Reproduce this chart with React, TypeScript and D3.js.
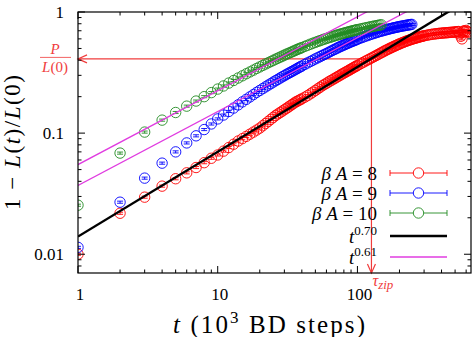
import React from "react";
import * as d3 from "d3";

// time in 10^3 BD steps
const tValues = [
  1, 2, 3, 4, 5, 6, 7, 8, 9, 10, 11, 12, 13, 14, 15, 16, 17, 18, 19, 20,
  21, 22, 23, 24, 25, 26, 27, 28, 29, 30, 31, 32, 33, 34, 35, 36, 37, 38, 39, 40,
  42, 44, 46, 48, 50, 52, 54, 56, 58, 60, 62, 64, 66, 68, 70, 72, 74, 76, 78, 80,
  82, 84, 86, 88, 90, 92, 94, 96, 98, 100,
  104, 108, 112, 116, 120, 124, 128, 132, 136, 140, 144, 148, 152, 156, 160, 164, 168, 172, 176, 180,
  184, 188, 192, 196, 200,
  205, 210, 215, 220, 225, 230, 235, 240, 245, 250, 255, 260, 265, 270, 275, 280, 285, 290, 295, 300,
  310, 320, 330, 340, 350, 360, 370, 380, 390, 400, 410, 420, 430, 440, 450, 460, 470, 480, 490, 500,
  510, 520, 530, 540, 550, 560, 570, 580, 590, 600, 610, 620,
];

// beta A = 8
const redValues = [
  0.01, 0.0218, 0.0296, 0.0365, 0.042, 0.047, 0.052, 0.057, 0.062, 0.066, 0.071, 0.076, 0.081, 0.086, 0.09, 0.094, 0.098, 0.102, 0.106, 0.11,
  0.115, 0.12, 0.125, 0.13, 0.135, 0.14, 0.144, 0.148, 0.152, 0.156, 0.16, 0.164, 0.168, 0.172, 0.176, 0.18, 0.183, 0.186, 0.189, 0.192,
  0.198, 0.204, 0.211, 0.218, 0.225, 0.232, 0.239, 0.246, 0.252, 0.258, 0.264, 0.27, 0.275, 0.281, 0.286, 0.292, 0.297, 0.303, 0.308, 0.313,
  0.318, 0.323, 0.328, 0.333, 0.338, 0.343, 0.348, 0.353, 0.357, 0.362,
  0.371, 0.38, 0.388, 0.397, 0.405, 0.413, 0.421, 0.429, 0.437, 0.445, 0.453, 0.461, 0.468, 0.476, 0.483, 0.49, 0.497, 0.503, 0.51, 0.516,
  0.522, 0.528, 0.534, 0.54, 0.545,
  0.552, 0.558, 0.564, 0.57, 0.576, 0.581, 0.586, 0.591, 0.596, 0.6, 0.604, 0.608, 0.612, 0.616, 0.62, 0.623, 0.627, 0.63, 0.633, 0.636,
  0.641, 0.646, 0.65, 0.654, 0.657, 0.66, 0.662, 0.665, 0.667, 0.669, 0.671, 0.672, 0.674, 0.675, 0.677, 0.678, 0.68, 0.681, 0.682, 0.684,
  0.686, 0.688, 0.69, 0.66, 0.63, 0.6, 0.69, 0.7, 0.685, 0.705, 0.69, 0.68,
];

// beta A = 9
const blueValues = [
  0.0114, 0.0269, 0.0425, 0.0565, 0.07, 0.083, 0.095, 0.107, 0.119, 0.131, 0.141, 0.151, 0.161, 0.171, 0.181, 0.19, 0.199, 0.208, 0.217, 0.225,
  0.233, 0.241, 0.249, 0.256, 0.264, 0.271, 0.278, 0.285, 0.292, 0.298, 0.305, 0.311, 0.317, 0.323, 0.329, 0.335, 0.341, 0.347, 0.353, 0.358,
  0.369, 0.38, 0.39, 0.4, 0.41, 0.419, 0.428, 0.437, 0.446, 0.454, 0.463, 0.472, 0.481, 0.489, 0.497, 0.505, 0.513, 0.52, 0.527, 0.534,
  0.541, 0.548, 0.554, 0.561, 0.567, 0.573, 0.579, 0.584, 0.59, 0.596,
  0.606, 0.616, 0.626, 0.635, 0.644, 0.652, 0.66, 0.668, 0.675, 0.682, 0.689, 0.695, 0.701, 0.707, 0.713, 0.718, 0.723, 0.728, 0.733, 0.738,
  0.742, 0.746, 0.75, 0.754, 0.758,
  0.762, 0.766, 0.77, 0.774, 0.778, 0.781, 0.784, 0.787, 0.79,
];

// beta A = 10
const greenValues = [
  0.0254, 0.0684, 0.102, 0.128, 0.148, 0.167, 0.184, 0.2, 0.216, 0.231, 0.245, 0.259, 0.272, 0.285, 0.297, 0.309, 0.32, 0.331, 0.342, 0.352,
  0.362, 0.372, 0.381, 0.39, 0.399, 0.408, 0.416, 0.424, 0.432, 0.44, 0.448, 0.455, 0.462, 0.469, 0.476, 0.483, 0.49, 0.496, 0.502, 0.508,
  0.52, 0.531, 0.542, 0.552, 0.562, 0.571, 0.58, 0.589, 0.597, 0.605, 0.612, 0.619, 0.626, 0.633, 0.64, 0.646, 0.652, 0.658, 0.664, 0.669,
  0.674, 0.679, 0.684, 0.689, 0.694, 0.698, 0.702, 0.707, 0.711, 0.715,
  0.722, 0.729, 0.736, 0.742, 0.748, 0.754, 0.76, 0.765, 0.77, 0.775, 0.78, 0.785,
];

const seriesValue = ["8", "9", "10"];
const seriesColors = ["#ff0000", "#0000ff", "#228b22"];

// power law fits: amplitude * t^exponent
const fitBlack = { amp: 0.014, exp: 0.7 };
const fitMagenta = [{ amp: 0.055, exp: 0.61 }, { amp: 0.037, exp: 0.61 }];

const tauZip = 126;
const pOverL0 = 0.41;
const relErr = 0.02;

const xMajor = [1, 10, 100];
const xMinor = [2, 3, 4, 5, 6, 7, 8, 9, 20, 30, 40, 50, 60, 70, 80, 90, 200, 300, 400, 500, 600];
const yMajor = [0.01, 0.1, 1];
const yMinor = [0.008, 0.009, 0.02, 0.03, 0.04, 0.05, 0.06, 0.07, 0.08, 0.09, 0.2, 0.3, 0.4, 0.5, 0.6, 0.7, 0.8, 0.9];
const yTickLabels = ["0.01", "0.1", "1"];

const W = 476;
const H = 337;
const margin = { left: 78, right: 5, top: 12, bottom: 64 };
const font = "'Liberation Serif', serif";
const arrowRed = "#f03c3c";
const magenta = "#e03ce0";

export default function App() {
  const x = d3.scaleLog().domain([1, 650]).range([margin.left, W - margin.right]);
  const y = d3.scaleLog().domain([0.007, 1]).range([H - margin.bottom, margin.top]);
  const [x0, x1] = x.range();
  const [yb, yt] = y.range();

  const allSeries = [redValues, blueValues, greenValues].map((vals, i) => ({
    key: seriesValue[i],
    color: seriesColors[i],
    points: vals.map((v, j) => ({ t: tValues[j], v })),
  }));

  const fitLine = (f: { amp: number; exp: number }) =>
    d3.line<number>().x((t) => x(t)).y((t) => y(f.amp * Math.pow(t, f.exp)))(x.domain());

  const ax = x(tauZip);
  const ay = y(pOverL0);

  const legendX = 377;
  const legendRows = [173, 193, 213, 236, 257];
  const sx0 = 390;
  const sx1 = 447;

  return (
    <svg width={W} height={H} style={{ position: "absolute", left: 0, top: 0, fontFamily: font }}>
      <defs>
        <clipPath id="plot">
          <rect x={x0} y={yt} width={x1 - x0} height={yb - yt} />
        </clipPath>
      </defs>

      {/* arrows */}
      <g stroke={arrowRed} strokeWidth={1.2} fill="none">
        <line x1={ax} y1={ay} x2={x0} y2={ay} />
        <polyline points={`${x0 + 9},${ay - 4} ${x0},${ay} ${x0 + 9},${ay + 4}`} />
        <line x1={ax} y1={ay} x2={ax} y2={yb} />
        <polyline points={`${ax - 4},${yb - 9} ${ax},${yb} ${ax + 4},${yb - 9}`} />
      </g>

      {/* data */}
      <g clipPath="url(#plot)">
        {allSeries.map((s) => (
          <g key={s.key} stroke={s.color} strokeWidth={0.9} fill="none">
            {s.points.map((p) => {
              const cx = x(p.t);
              const cy = y(p.v);
              const e1 = y(p.v * (1 + relErr));
              const e2 = y(p.v * (1 - relErr));
              return (
                <g key={p.t}>
                  <circle cx={cx} cy={cy} r={5.2} />
                  <path d={`M${cx},${e1}V${e2}M${cx - 3},${e1}H${cx + 3}M${cx - 3},${e2}H${cx + 3}`} />
                </g>
              );
            })}
          </g>
        ))}
        <path d={fitLine(fitBlack) || ""} stroke="#000" strokeWidth={2.4} fill="none" />
        {fitMagenta.map((f, i) => (
          <path key={i} d={fitLine(f) || ""} stroke={magenta} strokeWidth={1.3} fill="none" />
        ))}
      </g>

      {/* frame and ticks */}
      <rect x={x0} y={yt} width={x1 - x0} height={yb - yt} fill="none" stroke="#000" strokeWidth={1.2} />
      <g stroke="#000" strokeWidth={1}>
        {xMajor.concat(xMinor).map((t) => {
          const len = xMajor.includes(t) ? 7 : 3.5;
          return (
            <g key={"x" + t}>
              <line x1={x(t)} x2={x(t)} y1={yb} y2={yb - len} />
              <line x1={x(t)} x2={x(t)} y1={yt} y2={yt + len} />
            </g>
          );
        })}
        {yMajor.concat(yMinor).map((v) => {
          const len = yMajor.includes(v) ? 7 : 3.5;
          return (
            <g key={"y" + v}>
              <line x1={x0} x2={x0 + len} y1={y(v)} y2={y(v)} />
              <line x1={x1} x2={x1 - len} y1={y(v)} y2={y(v)} />
            </g>
          );
        })}
      </g>

      {/* tick labels */}
      <g fontSize={17} fill="#000">
        {xMajor.map((t) => (
          <text key={t} x={x(t) + 2} y={300} textAnchor="middle">
            {t}
          </text>
        ))}
        {yMajor.map((v, i) => (
          <text key={v} x={64} y={y(v)} dy="0.35em" textAnchor="end">
            {yTickLabels[i]}
          </text>
        ))}
      </g>

      {/* axis titles */}
      <text x={173} y={333} fontSize={25} textLength={192} lengthAdjust="spacing">
        <tspan fontStyle="italic">t</tspan> (10
        <tspan dy={-10} fontSize={17}>3</tspan>
        <tspan dy={10}> BD steps)</tspan>
      </text>
      <text transform="translate(20,210) rotate(-90)" fontSize={23} textLength={135} lengthAdjust="spacing">
        1 − <tspan fontStyle="italic">L</tspan>(<tspan fontStyle="italic">t</tspan>)/<tspan fontStyle="italic">L</tspan>(0)
      </text>

      {/* P / L(0) and tau_zip */}
      <g fill={arrowRed} fontSize={15} textAnchor="middle">
        <text x={55} y={ay - 5} fontStyle="italic">P</text>
        <line x1={40} x2={71} y1={ay - 1.5} y2={ay - 1.5} stroke={arrowRed} strokeWidth={0.8} />
        <text x={55} y={ay + 13}>
          <tspan fontStyle="italic">L</tspan>(0)
        </text>
      </g>
      <text x={ax + 1} y={286} fill={arrowRed} fontSize={16} fontStyle="italic">
        τ<tspan dy={3} fontSize={13}>zip</tspan>
      </text>

      {/* legend */}
      <g fontSize={19} textAnchor="end">
        {allSeries.map((s, i) => {
          const ly = legendRows[i];
          return (
            <g key={s.key}>
              <text x={legendX} y={ly} dy="0.35em">
                <tspan fontStyle="italic">β A</tspan> = {s.key}
              </text>
              <g stroke={s.color} strokeWidth={0.9} fill="none">
                <path d={`M${sx0},${ly}H${sx1}M${sx0},${ly - 3}V${ly + 3}M${sx1},${ly - 3}V${ly + 3}`} />
                <circle cx={(sx0 + sx1) / 2} cy={ly} r={5.2} fill="#fff" />
              </g>
            </g>
          );
        })}
        <text x={legendX} y={legendRows[3]} dy="0.35em">
          <tspan fontStyle="italic">t</tspan>
          <tspan dy={-8} fontSize={13}>0.70</tspan>
        </text>
        <line x1={sx0} x2={sx1} y1={legendRows[3]} y2={legendRows[3]} stroke="#000" strokeWidth={2.4} />
        <text x={legendX} y={legendRows[4]} dy="0.35em">
          <tspan fontStyle="italic">t</tspan>
          <tspan dy={-8} fontSize={13}>0.61</tspan>
        </text>
        <line x1={sx0} x2={sx1} y1={legendRows[4]} y2={legendRows[4]} stroke={magenta} strokeWidth={1.3} />
      </g>
    </svg>
  );
}
